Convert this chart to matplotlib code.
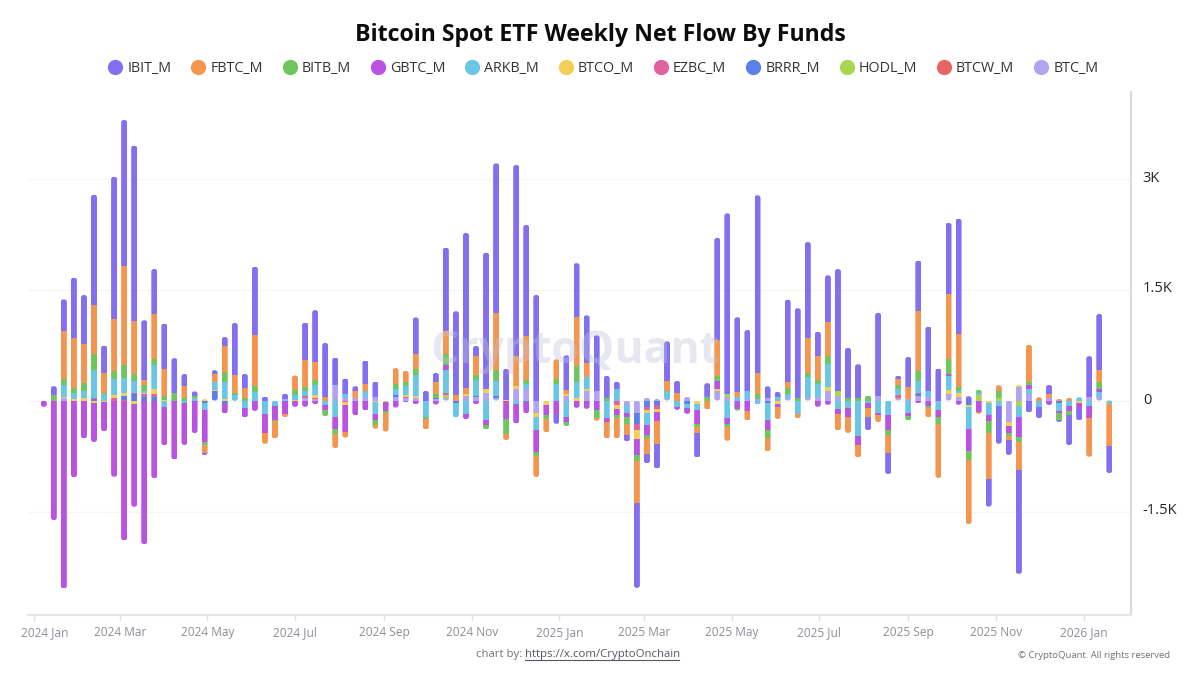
import pandas as pd
import matplotlib
matplotlib.use("Agg")
import matplotlib.pyplot as plt
import matplotlib.dates as mdates
from matplotlib.lines import Line2D
from matplotlib.patches import FancyBboxPatch
from matplotlib.transforms import ScaledTranslation

plt.rcParams["font.family"] = ["Open Sans", "DejaVu Sans"]

weeks = pd.date_range("2024-01-08", periods=107, freq="7D")

IBIT = [0,126,432,815,657,1494,373,1920,1970,2367,
        805,603,621,477,157,63,-22,50,126,706,
        184,927,54,0,76,0,513,697,733,364,
        207,67,310,211,0,0,0,495,130,126,
        1125,1125,2088,130,1840,2025,418,2574,1494,1426,
        0,-135,472,724,643,751,297,99,-85,-1147,
        -130,-328,531,162,0,-333,189,1386,2439,1008,
        828,2400,162,67,1111,1210,1300,324,630,1651,
        675,450,-185,1125,-283,50,410,684,873,432,
        967,1557,58,0,-369,-513,-202,-1408,-160,-144,
        121,-22,-405,-148,549,751,-369]
FBTC = [0,0,640,675,526,652,270,706,1340,720,
        76,607,355,0,171,0,-112,112,346,234,
        135,684,-144,-234,-40,198,355,247,45,-185,
        -80,90,94,-54,-250,220,157,202,-140,153,
        315,81,90,261,0,770,-76,410,600,-283,
        -180,265,54,670,193,-36,-216,-274,-148,-567,
        -211,-315,135,103,0,-81,-121,486,-189,72,
        -126,288,-184,-166,85,-58,468,328,463,-225,
        -220,-171,-117,-90,-243,81,153,801,-121,-724,
        873,720,-864,-27,-630,81,-58,-378,500,45,
        58,22,36,0,-526,171,-558]
BITB = [0,68,85,75,112,216,15,112,180,100,
        68,90,54,95,30,25,-45,0,130,27,
        40,85,0,-22,0,63,54,63,-81,-67,
        0,0,0,-63,-22,63,54,76,-30,58,
        144,0,0,72,-54,148,-202,0,58,-58,
        -58,72,-54,216,0,-112,36,-40,-99,-85,
        -45,0,0,0,0,-36,45,67,-40,-20,
        0,63,-103,0,72,36,54,58,99,0,
        36,40,67,0,-63,54,-63,140,-30,-99,
        207,58,-126,40,-157,85,-30,-67,36,0,
        0,-103,-50,0,0,90,0]
GBTC = [-85,-1615,-2540,-1035,-513,-530,-390,-1030,-1890,-1385,
        -1940,-1048,-518,-797,-570,-440,-423,0,-130,-5,
        -130,-140,-261,-185,-158,-85,-85,-50,-68,-170,
        -360,-200,-135,-80,-120,-95,-25,-50,0,-55,
        63,0,-67,-50,-72,0,-256,-265,-145,-292,
        -135,-180,-72,-99,-112,-126,-54,-76,-45,-216,
        -135,-120,0,-36,-80,-198,0,103,-72,-117,
        -144,0,-135,-32,0,0,0,-85,-58,-58,
        -117,-112,-70,-30,-211,0,-30,-40,-76,-90,
        27,-58,-297,-153,-81,0,-103,-265,58,0,
        -60,-27,-67,-90,-162,45,0]
ARKB = [0,0,157,80,100,387,85,216,198,153,
        30,320,-85,0,-30,35,-95,100,234,81,
        -99,112,-170,-72,0,72,67,140,-63,-220,
        50,0,85,-170,0,85,117,283,-220,0,
        320,-198,-185,216,-265,203,0,-45,58,-180,
        0,220,-220,216,162,0,-243,153,-112,0,
        -162,0,108,-90,-50,-72,0,0,-243,45,
        99,-54,-225,50,54,-180,265,166,324,-121,
        -100,-486,-30,-170,-193,72,-175,162,81,-108,
        189,22,-297,30,-166,-70,0,-148,63,-94,
        0,-108,-80,45,-72,67,-54]
BTCO = [0,0,22,15,30,-30,-25,36,45,-50,
        20,67,10,0,0,0,18,18,22,0,
        0,0,-10,0,0,5,0,36,0,0,
        -40,0,0,-15,-27,0,30,30,0,0,
        0,0,27,0,58,0,10,36,0,-45,
        -45,0,18,30,18,0,0,-58,0,-112,
        -30,-45,0,0,0,-50,0,30,0,0,
        0,0,0,-50,0,0,0,0,50,0,
        0,0,0,0,0,0,0,0,0,0,
        45,50,-25,0,-30,0,-54,25,0,0,
        0,0,0,-30,0,0,5]
EZBC = [0,0,0,0,0,15,0,36,0,20,
        40,45,0,0,0,0,0,0,0,0,
        0,0,0,0,0,0,35,15,0,0,
        -20,0,0,0,0,0,15,0,0,0,
        30,0,0,0,0,0,0,0,0,0,
        0,0,0,0,0,0,0,-63,0,-90,
        -45,-45,0,0,0,0,0,0,0,0,
        0,0,0,0,0,0,0,0,0,0,
        0,0,0,0,0,30,0,18,0,0,
        0,0,0,0,0,0,0,0,0,0,
        0,0,0,0,0,0,0]
BRRR = [0,0,0,0,0,15,0,0,50,85,
        45,45,0,0,0,0,-40,130,-45,0,
        0,0,0,0,-25,0,0,0,0,0,
        0,0,0,0,0,20,0,0,0,20,
        0,-30,0,13,0,18,0,0,-25,0,
        -10,0,0,0,0,0,0,0,0,-144,
        -90,-65,0,0,-50,0,0,0,0,0,
        0,0,-40,0,0,0,0,0,0,0,
        0,0,0,0,0,0,0,18,0,0,
        0,0,-60,0,0,0,0,0,0,0,
        0,-30,0,0,0,0,0]
HODL = [0,0,0,0,0,0,0,0,0,0,
        0,0,0,0,0,0,0,0,0,0,
        0,0,0,0,0,0,0,0,0,0,
        0,0,0,0,0,0,0,0,0,0,
        30,0,0,0,0,0,0,0,0,0,
        0,0,0,0,0,0,0,0,0,0,
        0,0,0,0,0,0,0,0,45,0,
        0,0,0,0,0,0,0,0,0,58,
        0,0,0,0,0,0,0,0,0,0,
        0,0,0,76,0,40,0,-76,0,0,
        0,0,0,0,0,0,0]
BTCW = [0,0,0,0,0,0,0,0,8,0,
        0,0,0,0,0,0,0,0,0,0,
        0,0,0,0,0,0,0,8,0,0,
        0,0,0,0,0,0,0,0,0,0,
        8,0,0,0,0,0,0,0,0,0,
        0,0,0,0,0,0,0,0,0,0,
        0,0,0,0,0,0,0,0,0,0,
        0,0,0,0,0,0,0,0,0,0,
        0,0,0,0,0,8,0,0,0,0,
        0,0,0,0,0,0,0,0,0,0,
        0,0,0,0,0,0,0]
BTC = [0,0,30,0,0,0,0,0,0,0,
       0,0,0,0,0,0,0,0,0,0,
       0,0,0,0,15,0,30,15,0,216,
       40,36,50,45,0,50,30,36,0,15,
       30,0,58,45,99,40,0,162,162,-175,
       0,0,67,0,135,130,0,0,-63,-170,
       36,20,25,0,50,0,0,126,45,0,
       25,22,30,0,40,0,54,54,126,67,
       0,0,0,60,0,40,25,67,45,-25,
       94,50,0,0,0,0,-288,185,94,0,
       30,0,0,0,50,45,0]

series_names = ["IBIT_M","FBTC_M","BITB_M","GBTC_M","ARKB_M","BTCO_M","EZBC_M","BRRR_M","HODL_M","BTCW_M","BTC_M"]
series_values = [IBIT,FBTC,BITB,GBTC,ARKB,BTCO,EZBC,BRRR,HODL,BTCW,BTC]
series_colors = ["#8270f0","#f4964f","#6fc65f","#ba52e2","#69c6e4","#f3cf55","#e2619f","#5b80ea","#a9d64e","#e86565","#b1a5f3"]

y_ticks = [-1500, 0, 1500, 3000]
y_labels = ["-1.5K", "0", "1.5K", "3K"]
x_tick_dates = pd.date_range("2024-01-01", "2026-01-01", freq="2MS")

W, H = 1200, 675
fig = plt.figure(figsize=(W/100, H/100), dpi=100, facecolor="white")
L, R, T, B = 28, 1131, 92, 615
ax = fig.add_axes([L/W, 1-B/H, (R-L)/W, (B-T)/H])

# y scale: 111 px per 1500, zero at pixel row 400.5
ppv = 111/1500
ax.set_ylim((400.5-B)/ppv, (400.5-T)/ppv)
# x scale: px per day, 2024-01-01 at x pixel 33.7
ppd = (1083.5-33.7)/731
t0 = mdates.date2num(pd.Timestamp("2024-01-01"))
ax.set_xlim(t0-(33.7-L)/ppd, t0+(R-33.7)/ppd)

x = mdates.date2num(weeks)
bw = 6/ppd
pos = [0.0]*len(x)
neg = [0.0]*len(x)
rects = [[] for _ in x]
for vals, col in zip(reversed(series_values), reversed(series_colors)):
    bott = [pos[i] if v >= 0 else neg[i] for i, v in enumerate(vals)]
    bars = ax.bar(x, vals, width=bw, bottom=bott, color=col, linewidth=0, zorder=3)
    for i, v in enumerate(vals):
        if v >= 0:
            pos[i] += v
        else:
            neg[i] += v
        rects[i].append(bars[i])

aspect = (1/ppv)/(1/ppd)
for i, xi in enumerate(x):
    clip = FancyBboxPatch((xi-bw/2, neg[i]), bw, pos[i]-neg[i],
                          boxstyle=f"round,pad=0,rounding_size={2.6/ppd}",
                          mutation_aspect=aspect, transform=ax.transData,
                          facecolor="none", edgecolor="none")
    for r in rects[i]:
        r.set_clip_path(clip)

ax.set_yticks(y_ticks)
ax.set_yticklabels(y_labels)
ax.yaxis.tick_right()
ax.tick_params(axis="y", length=0, pad=8.5, labelsize=10.5, labelcolor="#262626")
up = ScaledTranslation(0, 2.5/100, fig.dpi_scale_trans)
for lab in ax.get_yticklabels():
    lab.set_transform(lab.get_transform()+up)
ax.grid(axis="y", color="#f6f6f8", linewidth=1, zorder=0)
ax.set_axisbelow(True)

ax.set_xticks(mdates.date2num(x_tick_dates))
ax.set_xticklabels([d.strftime("%Y %b") for d in x_tick_dates])
ax.tick_params(axis="x", length=4.5, width=1, color="#e3e3e6", pad=3.5, labelsize=8.6, labelcolor="#8b8f97")
first = ax.get_xticklabels()[0]
first.set_transform(first.get_transform()+ScaledTranslation(11/100, 0, fig.dpi_scale_trans))

for s in ("top", "left"):
    ax.spines[s].set_visible(False)
ax.spines["right"].set_color("#d9d9e3")
ax.spines["right"].set_linewidth(1.5)
ax.spines["bottom"].set_color("#e6e6e9")
ax.spines["bottom"].set_linewidth(1.5)

# watermark
fig.text(575/W, 1-352/H, "CryptoQuant", ha="center", va="center",
         fontsize=32, fontweight="bold", color="#c0c3d6", alpha=0.38, zorder=4)

fig.text(600/W, 1-35/H, "Bitcoin Spot ETF Weekly Net Flow By Funds", ha="center", va="center",
         fontsize=16.7, fontweight="bold", color="#0c0c0c")

handles = [Line2D([], [], linestyle="none", marker="o", markersize=11, markerfacecolor=c,
                  markeredgewidth=0, label=n) for n, c in zip(series_names, series_colors)]
fig.legend(handles=handles, loc="center", bbox_to_anchor=(601/W, 1-69/H), ncols=11, frameon=False,
           fontsize=10.3, labelcolor="#333333", handletextpad=0.04, columnspacing=1.08, handlelength=1.6, borderpad=0)

fig.text(476/W, 1-654/H, "chart by:", ha="left", va="center", fontsize=8.2, color="#6f7278")
fig.text(525/W, 1-654/H, "https://x.com/CryptoOnchain", ha="left", va="center", fontsize=8.2, color="#55585e")
fig.add_artist(Line2D([525/W, 679/W], [1-660/H, 1-660/H], color="#55585e", linewidth=0.8))
fig.text(1170/W, 1-656/H, "© CryptoQuant. All rights reserved", ha="right", va="center", fontsize=6.8, color="#6f7278")

fig.savefig("out.png", dpi=100, facecolor="white")
